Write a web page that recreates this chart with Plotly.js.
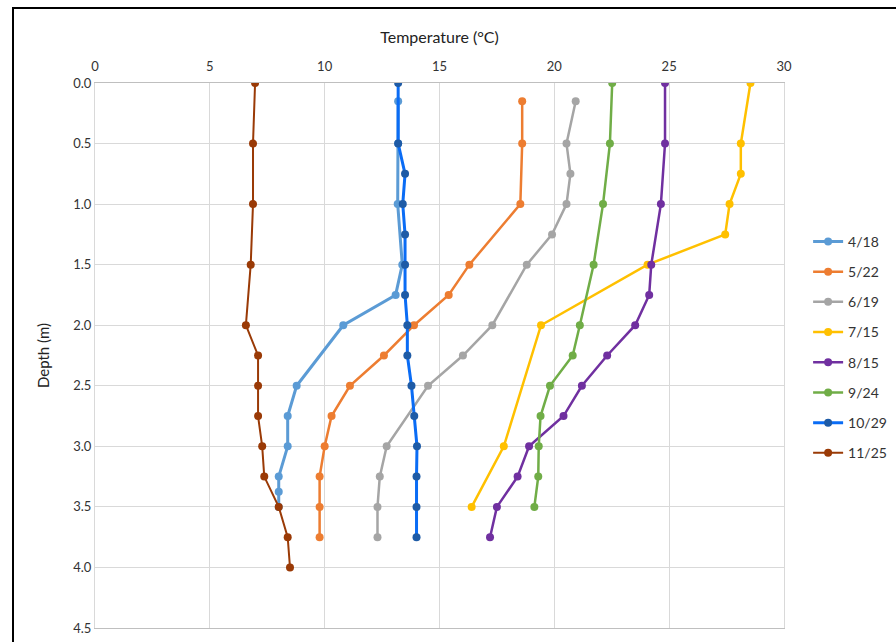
<!DOCTYPE html>
<html>
<head>
<meta charset="utf-8">
<script src="https://cdn.plot.ly/plotly-3.0.1.min.js"></script>
<style>
  html, body { margin: 0; padding: 0; background: #ffffff; overflow: hidden; width: 896px; height: 642px; }
  #frame { position: absolute; left: 12px; top: 7px; width: 1000px; height: 1000px; border: 2px solid #000; box-sizing: border-box; }
  #chart { position: absolute; left: 0; top: 0; width: 920px; height: 642px; }
</style>
</head>
<body>
<div id="frame"></div>
<div id="chart"></div>
<script>
// Data: temperature (°C) vs depth (m)
const seriesNames = ["4/18", "5/22", "6/19", "7/15", "8/15", "9/24", "10/29", "11/25"];

const depth_0418 = [0.15, 0.5, 1.0, 1.5, 1.75, 2.0, 2.5, 2.75, 3.0, 3.25, 3.375, 3.5];
const temp_0418  = [13.2, 13.2, 13.18, 13.38, 13.09, 10.81, 8.78, 8.39, 8.39, 8.0, 8.0, 8.0];

const depth_0522 = [0.15, 0.5, 1.0, 1.5, 1.75, 2.0, 2.25, 2.5, 2.75, 3.0, 3.25, 3.5, 3.75];
const temp_0522  = [18.6, 18.6, 18.52, 16.3, 15.4, 13.89, 12.58, 11.1, 10.3, 10.0, 9.78, 9.78, 9.78];

const depth_0619 = [0.15, 0.5, 0.75, 1.0, 1.25, 1.5, 2.0, 2.25, 2.5, 3.0, 3.25, 3.5, 3.75];
const temp_0619  = [20.93, 20.53, 20.7, 20.53, 19.9, 18.8, 17.3, 16.02, 14.5, 12.7, 12.4, 12.3, 12.3];

const depth_0715 = [0.0, 0.5, 0.75, 1.0, 1.25, 1.5, 2.0, 3.0, 3.5];
const temp_0715  = [28.54, 28.12, 28.12, 27.63, 27.44, 24.06, 19.42, 17.8, 16.4];

const depth_0815 = [0.0, 0.5, 1.0, 1.5, 1.75, 2.0, 2.25, 2.5, 2.75, 3.0, 3.25, 3.5, 3.75];
const temp_0815  = [24.82, 24.82, 24.64, 24.22, 24.13, 23.52, 22.3, 21.2, 20.4, 18.9, 18.4, 17.5, 17.2];

const depth_0924 = [0.0, 0.5, 1.0, 1.5, 2.0, 2.25, 2.5, 2.75, 3.0, 3.25, 3.5];
const temp_0924  = [22.52, 22.42, 22.12, 21.71, 21.11, 20.8, 19.81, 19.4, 19.32, 19.3, 19.13];

const depth_1029 = [0.0, 0.5, 0.75, 1.0, 1.25, 1.5, 1.75, 2.0, 2.25, 2.5, 2.75, 3.0, 3.25, 3.5, 3.75];
const temp_1029  = [13.2, 13.2, 13.5, 13.4, 13.5, 13.5, 13.5, 13.6, 13.6, 13.78, 13.9, 14.02, 14.0, 14.0, 14.0];

const depth_1125 = [0.0, 0.5, 1.0, 1.5, 2.0, 2.25, 2.5, 2.75, 3.0, 3.25, 3.5, 3.75, 4.0];
const temp_1125  = [6.97, 6.88, 6.88, 6.78, 6.57, 7.1, 7.1, 7.1, 7.28, 7.37, 8.0, 8.39, 8.49];

const xTickVals = [0, 5, 10, 15, 20, 25, 30];
const yTickVals = [0, 0.5, 1.0, 1.5, 2.0, 2.5, 3.0, 3.5, 4.0, 4.5];

const lineColors   = ["#5B9BD5", "#ED7D31", "#A5A5A5", "#FFC000", "#7030A0", "#70AD47", "#0A6CF5", "#9A3A06"];
const markerColors = ["#5B9BD5", "#ED7D31", "#A5A5A5", "#FFC000", "#7030A0", "#70AD47", "#1E5BA6", "#9A3A06"];
const lineWidths   = [3, 2.5, 2.5, 2.5, 2.5, 2.5, 3, 2];

const xs = [temp_0418, temp_0522, temp_0619, temp_0715, temp_0815, temp_0924, temp_1029, temp_1125];
const ys = [depth_0418, depth_0522, depth_0619, depth_0715, depth_0815, depth_0924, depth_1029, depth_1125];

const FONT = "Lato, 'Liberation Sans', sans-serif";

const traces = seriesNames.map((name, i) => ({
  type: "scatter",
  mode: "lines+markers",
  name: name,
  legendgroup: "g" + i,
  x: xs[i],
  y: ys[i],
  line: { color: lineColors[i], width: lineWidths[i] },
  marker: { color: markerColors[i], size: 8 },
  hoverinfo: "skip"
}));

const layout = {
  width: 920,
  height: 642,
  margin: { l: 95, r: 136, t: 83, b: 14 },
  paper_bgcolor: "rgba(0,0,0,0)",
  plot_bgcolor: "#ffffff",
  font: { family: FONT, size: 13, color: "#333333" },
  showlegend: true,
  xaxis: {
    side: "top",
    range: [0, 30],
    tickvals: xTickVals,
    ticktext: xTickVals.map(v => String(v)),
    showgrid: true,
    gridcolor: "#D9D9D9",
    gridwidth: 1,
    zeroline: false,
    showline: true,
    linecolor: "#BFBFBF",
    mirror: true,
    ticks: "",
    ticklabelstandoff: 6,
    tickfont: { family: FONT, size: 13, color: "#333333" },
    title: { text: "Temperature (°C)", font: { family: FONT, size: 16, color: "#222222" }, standoff: 10 },
    fixedrange: true
  },
  yaxis: {
    range: [4.5, 0],
    tickvals: yTickVals,
    ticktext: yTickVals.map(v => v.toFixed(1)),
    showgrid: true,
    gridcolor: "#D9D9D9",
    gridwidth: 1,
    zeroline: false,
    showline: true,
    linecolor: "#D9D9D9",
    mirror: true,
    ticks: "",
    tickfont: { family: FONT, size: 13, color: "#333333" },
    title: { text: "Depth (m)", font: { family: FONT, size: 15, color: "#222222" }, standoff: 19 },
    fixedrange: true
  },
  legend: {
    x: 1.035,
    xanchor: "left",
    y: 0.515,
    yanchor: "middle",
    font: { family: FONT, size: 14, color: "#333333" },
    tracegroupgap: 9,
    itemwidth: 30,
    bgcolor: "rgba(0,0,0,0)"
  }
};

Plotly.newPlot("chart", traces, layout, { staticPlot: true, displayModeBar: false });
</script>
</body>
</html>
